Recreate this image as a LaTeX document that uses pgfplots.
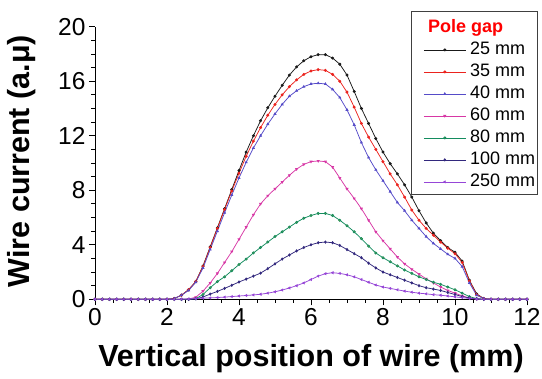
\documentclass[border=0pt]{standalone}
\usepackage{pgfplots}
\pgfplotsset{compat=1.18}
\usepackage{pgfplotstable}
\usepackage{fontspec}
\setmainfont{Liberation Sans}

\definecolor{c25}{RGB}{25,25,25}
\definecolor{c35}{RGB}{235,35,30}
\definecolor{c40}{RGB}{85,75,200}
\definecolor{c60}{RGB}{215,55,165}
\definecolor{c80}{RGB}{20,140,95}
\definecolor{c80m}{RGB}{170,175,40}
\definecolor{c100}{RGB}{50,40,125}
\definecolor{c250}{RGB}{150,70,215}

\pgfplotstableread{
x a b c d e f g
0.0 0 0 0 0 0 0 0
0.2 0 0 0 0 0 0 0
0.4 0 0 0 0 0 0 0
0.6 0 0 0 0 0 0 0
0.8 0 0 0 0 0 0 0
1.0 0 0 0 0 0 0 0
1.2 0 0 0 0 0 0 0
1.4 0 0 0 0 0 0 0
1.6 0 0 0 0 0 0 0
1.8 0 0 0 0 0 0 0
2.0 0 0 0 0 0 0 0
2.2 0.05 0.05 0.05 0 0 0 0
2.4 0.3 0.3 0.3 0 0 0 0.01
2.6 0.7 0.7 0.65 0.02 0 0 0.02
2.8 1.3 1.3 1.25 0.15 0.05 0.03 0.05
3.0 2.45 2.4 2.3 0.6 0.35 0.17 0.08
3.2 3.85 3.8 3.65 1.2 0.85 0.38 0.1
3.4 5.25 5.2 5.0 1.9 1.3 0.58 0.13
3.6 6.65 6.6 6.35 2.7 1.65 0.8 0.16
3.8 8.05 7.95 7.65 3.5 2.1 1.03 0.2
4.0 9.45 9.25 8.9 4.4 2.55 1.27 0.24
4.2 10.8 10.5 10.05 5.3 2.95 1.48 0.28
4.4 12.0 11.6 11.1 6.2 3.4 1.7 0.32
4.6 13.1 12.6 12.0 7.0 3.8 1.92 0.37
4.8 14.05 13.5 12.85 7.6 4.2 2.25 0.45
5.0 14.9 14.3 13.6 8.1 4.6 2.6 0.55
5.2 15.7 15.0 14.3 8.6 4.95 2.95 0.68
5.4 16.45 15.6 14.9 9.1 5.3 3.25 0.83
5.6 17.05 16.1 15.3 9.55 5.65 3.55 1.0
5.8 17.5 16.5 15.6 9.9 5.95 3.8 1.2
6.0 17.8 16.75 15.8 10.1 6.15 4.0 1.45
6.2 17.95 16.85 15.85 10.15 6.3 4.15 1.7
6.4 17.95 16.8 15.8 10.1 6.3 4.2 1.88
6.6 17.7 16.5 15.4 9.7 6.15 4.15 1.95
6.8 17.25 16.0 14.8 8.9 5.8 3.95 1.9
7.0 16.45 15.2 13.9 8.1 5.4 3.65 1.8
7.2 15.25 14.1 12.8 7.4 4.95 3.35 1.65
7.4 14.0 12.9 11.5 6.65 4.45 3.05 1.45
7.6 12.9 11.9 10.4 5.8 3.9 2.65 1.25
7.8 11.8 11.0 9.5 4.95 3.4 2.3 1.05
8.0 10.8 10.1 8.7 4.3 3.05 2.0 0.9
8.2 9.95 9.2 7.9 3.7 2.75 1.8 0.8
8.4 9.2 8.4 7.1 3.1 2.45 1.6 0.7
8.6 8.4 7.5 6.5 2.6 2.15 1.4 0.6
8.8 7.5 6.55 5.8 2.2 1.9 1.2 0.52
9.0 6.5 5.8 5.2 1.85 1.65 1.0 0.45
9.2 5.6 5.2 4.6 1.5 1.45 0.85 0.4
9.4 4.85 4.7 4.1 1.2 1.25 0.75 0.34
9.6 4.3 4.2 3.7 0.9 1.1 0.65 0.3
9.8 3.8 3.75 3.3 0.65 0.9 0.5 0.24
10.0 3.45 3.35 3.0 0.45 0.7 0.35 0.18
10.2 2.8 2.7 2.4 0.25 0.45 0.2 0.12
10.4 1.4 1.35 1.2 0.1 0.2 0.1 0.06
10.6 0.4 0.35 0.3 0.03 0.05 0.03 0.02
10.8 0.05 0.05 0.05 0 0 0 0
11.0 0 0 0 0 0 0 0
11.2 0 0 0 0 0 0 0
11.4 0 0 0 0 0 0 0
11.6 0 0 0 0 0 0 0
11.8 0 0 0 0 0 0 0
12.0 0 0 0 0 0 0 0
}\wiredata

\begin{document}
\begin{tikzpicture}
\useasboundingbox (-95pt,-79.7pt) rectangle (447pt,299.3pt);
\begin{axis}[
  at={(0pt,0pt)}, anchor=origin,
  scale only axis,
  width=432pt, height=272.6pt,
  xmin=0, xmax=12, ymin=0, ymax=20,
  axis lines=left,
  axis line style={line width=0.9pt, -},
  xtick={0,2,...,12}, ytick={0,4,...,20},
  minor x tick num=3, minor y tick num=3,
  tick align=outside,
  major tick length=6pt, minor tick length=3.5pt,
  every tick/.style={black, line width=0.9pt},
  /pgf/number format/assume math mode=true,
  tick label style={font=\fontsize{24.5}{26}\selectfont},
  xlabel={\textbf{Vertical position of wire (mm)}},
  ylabel={\textbf{Wire current (a.μ)}},
  label style={font=\fontsize{30.5}{32}\selectfont},
  xlabel style={at={(axis description cs:0.5,-0.2447)}, anchor=base},
  ylabel style={at={(axis description cs:-0.1505,0.507)}, anchor=base},
  legend cell align=left,
  legend style={at={(axis description cs:0.7315,1.0576)}, anchor=north west,
    draw=black!75, line width=0.8pt, inner xsep=1pt, inner ysep=2.5pt,
    font=\fontsize{18}{20}\selectfont, row sep=2pt, column sep=2.5pt,
    nodes={inner sep=1.5pt, text height=13pt, text depth=4pt}},
  legend image code/.code={\path (0pt,0pt); \draw[mark repeat=2,mark phase=2,#1] plot coordinates {(11pt,0pt) (32pt,0pt) (53pt,0pt)};},
  every axis plot/.append style={line width=0.75pt, mark size=1.1pt},
]
\addlegendimage{empty legend}
\addlegendentry[text height=17pt]{\hspace*{-42pt}\textcolor{red}{\textbf{Pole gap}}}
\addplot[c25, mark=*] table[x=x,y=a] {\wiredata};
\addlegendentry{25 mm}
\addplot[c35, mark=*] table[x=x,y=b] {\wiredata};
\addlegendentry{35 mm}
\addplot[c40, mark=triangle*] table[x=x,y=c] {\wiredata};
\addlegendentry{40 mm}
\addplot[c60, mark=triangle*, mark options={rotate=180}] table[x=x,y=d] {\wiredata};
\addlegendentry{60 mm}
\addplot[c80, mark=*, mark options={fill=c80m, draw=c80}] table[x=x,y=e] {\wiredata};
\addlegendentry{80 mm}
\addplot[c100, mark=diamond*] table[x=x,y=f] {\wiredata};
\addlegendentry{100 mm}
\addplot[c250, mark=triangle*, mark options={rotate=90}] table[x=x,y=g] {\wiredata};
\addlegendentry{250 mm}
\end{axis}
\end{tikzpicture}
\end{document}
